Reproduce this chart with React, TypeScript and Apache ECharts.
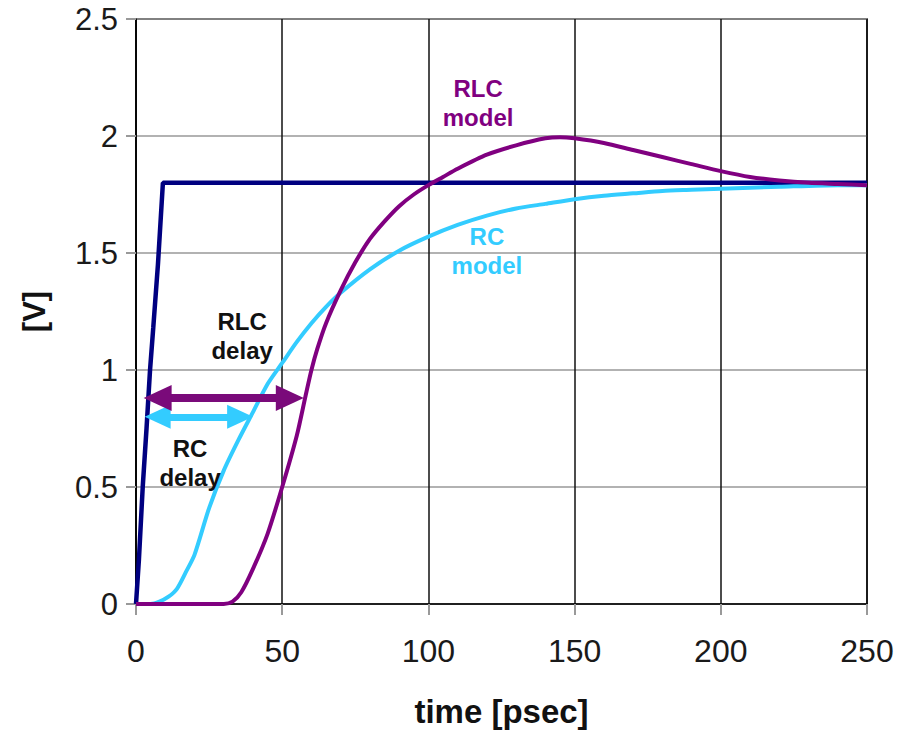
import React, { useEffect, useRef } from "react";
import * as echarts from "echarts";

// Time axis in psec, voltage in V
const xTicks = [0, 50, 100, 150, 200, 250];
const yTicks = [0, 0.5, 1, 1.5, 2, 2.5];

// Driving input ramp
const inputT = [0, 1, 2.3, 3.6, 4.8, 5.9, 7.5, 9.2, 250];
const inputV = [0, 0.19, 0.5, 0.75, 1.0, 1.18, 1.45, 1.8, 1.8];

// RC model response
const rcT = [0, 5, 8, 11, 14, 17, 20, 25, 30, 35, 40, 45, 50, 55, 60, 65, 70, 80, 90, 100, 110, 120, 130, 140, 150, 160, 170, 180, 190, 200, 220, 240, 250];
const rcV = [0, 0, 0.01, 0.03, 0.065, 0.135, 0.21, 0.41, 0.57, 0.7, 0.82, 0.94, 1.03, 1.12, 1.2, 1.27, 1.33, 1.43, 1.51, 1.57, 1.62, 1.66, 1.69, 1.71, 1.73, 1.745, 1.755, 1.765, 1.77, 1.775, 1.783, 1.79, 1.79];

// RLC model response
const rlcT = [0, 30, 33, 36, 40, 45, 50, 55, 58, 60, 62, 65, 70, 75, 80, 85, 90, 95, 100, 105, 110, 120, 130, 140, 145, 150, 160, 170, 180, 190, 200, 210, 220, 230, 240, 250];
const rlcV = [0, 0, 0.01, 0.05, 0.15, 0.3, 0.5, 0.72, 0.89, 1.0, 1.09, 1.2, 1.34, 1.46, 1.56, 1.635, 1.7, 1.75, 1.79, 1.825, 1.86, 1.92, 1.96, 1.99, 1.995, 1.99, 1.97, 1.94, 1.91, 1.88, 1.85, 1.825, 1.81, 1.8, 1.795, 1.79];

// Delay arrows: [start, end] (arrow-head centres) and level in V
const rlcDelayArrow = [7.4, 52.6];
const rlcDelayLevel = 0.88;
const rcDelayArrow = [7.4, 35.6];
const rcDelayLevel = 0.8;

// Annotation anchors [t, V]
const rlcDelayLabelAt = [36.3, 1.144];
const rcDelayLabelAt = [18.5, 0.604];
const rlcModelLabelAt = [117, 2.143];
const rcModelLabelAt = [120, 1.509];

const NAVY = "#000080";
const CYAN = "#33CCFF";
const PURPLE = "#800080";
const FONT = "'Liberation Sans', Arial, sans-serif";

const zip = (t: number[], v: number[]) => t.map((x, i) => [x, v[i]]);

const note = (at: number[], text: string, color: string) => ({
  coord: at,
  symbol: "circle",
  symbolSize: 0,
  label: {
    show: true,
    position: "inside",
    formatter: text,
    color,
    fontFamily: FONT,
    fontWeight: "bold",
    fontSize: 24,
    lineHeight: 29,
    align: "center",
  },
});

export default function App() {
  const ref = useRef<HTMLDivElement>(null);

  useEffect(() => {
    if (!ref.current) return;
    const chart = echarts.init(ref.current, undefined, { renderer: "svg" });
    chart.setOption({
      animation: false,
      backgroundColor: "#fff",
      grid: {
        left: 136,
        right: 56,
        top: 19,
        bottom: 126,
        show: true,
        borderColor: "#000",
        borderWidth: 1.5,
        backgroundColor: "transparent",
      },
      xAxis: {
        type: "value",
        min: xTicks[0],
        max: xTicks[xTicks.length - 1],
        interval: 50,
        name: "time [psec]",
        nameLocation: "middle",
        nameGap: 91,
        nameTextStyle: { fontFamily: FONT, fontWeight: "bold", fontSize: 33, color: "#111" },
        axisLine: { show: true, lineStyle: { color: "#000", width: 1.5 } },
        axisTick: { show: true, length: 11, lineStyle: { color: "#999", width: 2 } },
        axisLabel: { margin: 31, fontFamily: FONT, fontSize: 32, color: "#1a1a1a" },
        splitLine: { show: true, lineStyle: { color: "#111", width: 1.5 } },
      },
      yAxis: {
        type: "value",
        min: yTicks[0],
        max: yTicks[yTicks.length - 1],
        interval: 0.5,
        name: "[V]",
        nameLocation: "middle",
        nameRotate: 90,
        nameGap: 86,
        nameTextStyle: { fontFamily: FONT, fontWeight: "bold", fontSize: 31, color: "#111" },
        axisLine: { show: true, lineStyle: { color: "#000", width: 1.5 } },
        axisTick: { show: true, length: 10, lineStyle: { color: "#999", width: 2 } },
        axisLabel: { margin: 18, fontFamily: FONT, fontSize: 31, color: "#1a1a1a" },
        splitLine: { show: true, lineStyle: { color: "#999", width: 1.5 } },
      },
      series: [
        {
          name: "input",
          type: "line",
          data: zip(inputT, inputV),
          showSymbol: false,
          lineStyle: { color: NAVY, width: 4.5 },
          z: 3,
        },
        {
          name: "RC model",
          type: "line",
          data: zip(rcT, rcV),
          smooth: 0.25,
          showSymbol: false,
          lineStyle: { color: CYAN, width: 4 },
          z: 4,
          markPoint: {
            silent: true,
            data: [note(rcModelLabelAt, "RC\nmodel", CYAN), note(rcDelayLabelAt, "RC\ndelay", "#111")],
          },
          markLine: {
            silent: true,
            symbol: ["triangle", "triangle"],
            symbolSize: [24, 26],
            label: { show: false },
            lineStyle: { color: CYAN, width: 7, type: "solid" },
            data: [
              [
                { coord: [rcDelayArrow[0], rcDelayLevel] },
                { coord: [rcDelayArrow[1], rcDelayLevel] },
              ],
            ],
          },
        },
        {
          name: "RLC model",
          type: "line",
          data: zip(rlcT, rlcV),
          smooth: 0.25,
          showSymbol: false,
          lineStyle: { color: PURPLE, width: 4 },
          z: 5,
          markPoint: {
            silent: true,
            data: [note(rlcModelLabelAt, "RLC\nmodel", PURPLE), note(rlcDelayLabelAt, "RLC\ndelay", "#111")],
          },
          markLine: {
            silent: true,
            symbol: ["triangle", "triangle"],
            symbolSize: [26, 28],
            label: { show: false },
            lineStyle: { color: "#7a0a7a", width: 8, type: "solid" },
            data: [
              [
                { coord: [rlcDelayArrow[0], rlcDelayLevel] },
                { coord: [rlcDelayArrow[1], rlcDelayLevel] },
              ],
            ],
          },
        },
      ],
    });
    return () => chart.dispose();
  }, []);

  return (
    <div
      ref={ref}
      style={{ position: "absolute", left: 0, top: 0, width: 923, height: 733 }}
    />
  );
}
